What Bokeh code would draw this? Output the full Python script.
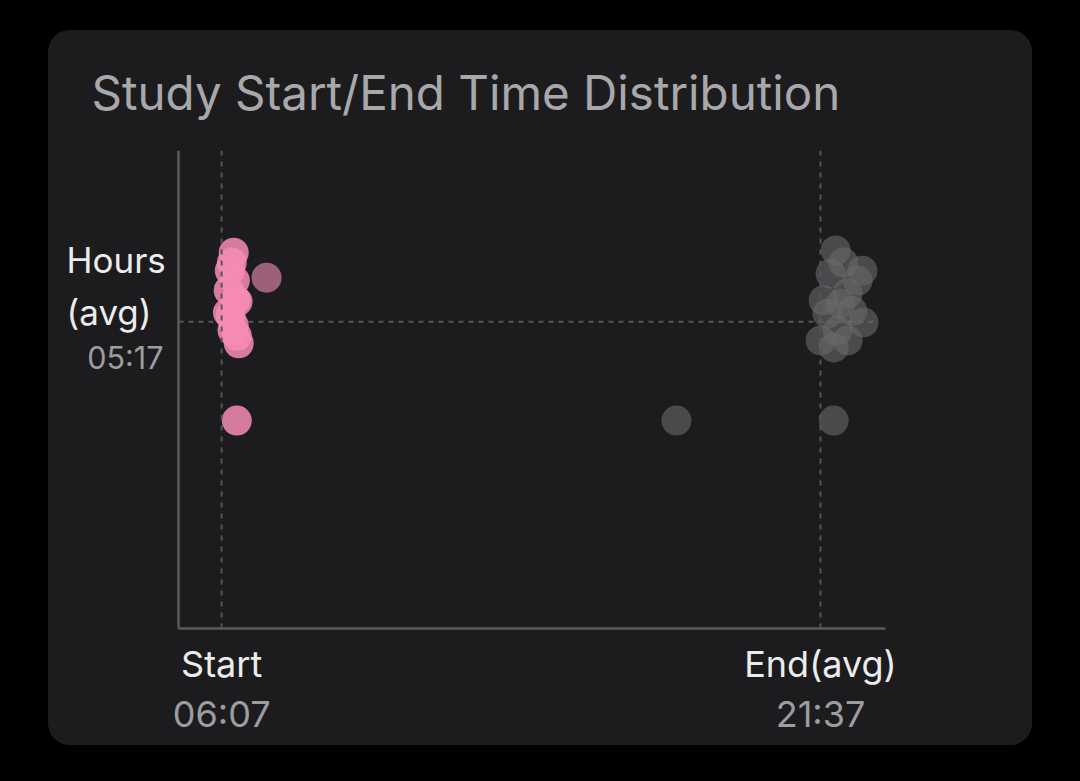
from bokeh.plotting import figure
from bokeh.models import Range1d, Span, Label, LinearAxis, FixedTicker
from bokeh.embed import file_html
from bokeh.resources import INLINE

# ---- data ----
title_text = "Study Start/End Time Distribution"
start_avg = 6 + 7 / 60      # 06:07
end_avg = 21 + 37 / 60      # 21:37
hours_avg = 5 + 17 / 60     # 05:17
x_tick_names = ["Start", "End(avg)"]
x_tick_times = ["06:07", "21:37"]
y_names = ["Hours", "(avg)"]
y_time = "05:17"

start_x = [6.43, 6.38, 6.33, 6.46, 6.30, 6.48, 6.53, 6.35, 6.28, 6.43, 6.40, 6.51, 6.56, 6.51]
start_y = [6.47, 6.30, 6.16, 5.99, 5.82, 5.65, 5.63, 5.39, 5.44, 5.22, 5.13, 5.04, 4.91, 3.58]
start_faded_x = [7.28]
start_faded_y = [6.04]

end_x = [22.01, 22.70, 21.88, 22.58, 22.32, 21.70, 22.14, 21.80, 22.73, 22.06, 22.32, 21.62, 21.96, 22.21, 22.44, 21.96, 17.89]
end_y = [6.51, 6.16, 6.11, 5.99, 5.77, 5.65, 5.59, 5.42, 5.27, 5.13, 4.96, 4.96, 4.84, 6.30, 5.47, 3.58, 3.58]

FONT = "Inter"
CARD = "#1c1c1e"

axis_x = 5.0                      # x value where the y axis sits
xr = Range1d(1.843, 23.3)
yr = Range1d(0.0, 8.23)

p = figure(frame_width=829, frame_height=478, x_range=xr, y_range=yr,
           output_backend="svg", toolbar_location=None,
           x_axis_type=None, y_axis_type=None,
           min_border_left=8, min_border_right=147,
           min_border_top=120, min_border_bottom=117,
           background_fill_color=None, border_fill_color=CARD,
           outline_line_color=None)
p.margin = (30, 0, 0, 48)
p.styles = {"border-radius": "22px", "overflow": "hidden", "background-color": CARD}
p.grid.visible = False

# title
p.title.text = title_text
p.title.text_font = FONT
p.title.text_font_size = "47.5px"
p.title.text_font_style = "normal"
p.title.text_color = "#a8a8ab"
p.title.align = "left"
p.title.offset = 35
p.title.standoff = 59

# axes
ax_b = LinearAxis(ticker=FixedTicker(ticks=[start_avg, end_avg], minor_ticks=[]))
ax_b.bounds = (axis_x, xr.end)
ax_b.major_label_overrides = {start_avg: x_tick_names[0], end_avg: x_tick_names[1]}
ax_b.axis_line_color = "#5a5a5c"
ax_b.axis_line_width = 2.5
ax_b.major_tick_line_color = None
ax_b.minor_tick_line_color = None
ax_b.major_tick_out = 0
ax_b.major_label_standoff = 13
ax_b.major_label_text_font = FONT
ax_b.major_label_text_font_size = "36px"
ax_b.major_label_text_color = "#ececec"
p.add_layout(ax_b, "below")

ax_b2 = LinearAxis(ticker=FixedTicker(ticks=[start_avg, end_avg], minor_ticks=[]))
ax_b2.major_label_overrides = {start_avg: x_tick_times[0], end_avg: x_tick_times[1]}
ax_b2.axis_line_color = None
ax_b2.major_tick_line_color = None
ax_b2.minor_tick_line_color = None
ax_b2.major_tick_out = 0
ax_b2.major_label_standoff = 3
ax_b2.major_label_text_font = FONT
ax_b2.major_label_text_font_size = "36px"
ax_b2.major_label_text_color = "#9d9da0"
p.add_layout(ax_b2, "below")

ax_l = LinearAxis(ticker=FixedTicker(ticks=[], minor_ticks=[]), fixed_location=axis_x)
ax_l.axis_line_color = "#5a5a5c"
ax_l.axis_line_width = 2.5
ax_l.major_tick_line_color = None
ax_l.minor_tick_line_color = None
ax_l.major_tick_out = 0
ax_l.major_label_standoff = 0
ax_l.major_label_text_font_size = "0px"
p.add_layout(ax_l, "left")

# reference lines
for xv in (start_avg, end_avg):
    p.add_layout(Span(location=xv, dimension="height", line_color="#55555a",
                      line_width=2, line_dash="5 6"))
p.segment(x0=[axis_x], y0=[hours_avg], x1=[xr.end - 0.18], y1=[hours_avg],
          line_color="#55555a", line_width=2, line_dash="5 5")

# points
p.scatter(end_x, end_y, size=30, fill_color="#69696b", fill_alpha=0.6, line_color=None)
p.scatter(start_faded_x, start_faded_y, size=30, fill_color="#f090b4", fill_alpha=0.6, line_color=None)
p.scatter(start_x, start_y, size=30, fill_color="#f68cb4", fill_alpha=0.85, line_color=None)

# y-axis texts
p.add_layout(Label(x=axis_x, y=hours_avg, x_offset=-112, y_offset=62, text=y_names[0],
                   text_align="left", text_baseline="middle", text_font=FONT,
                   text_font_size="35px", text_color="#ececec"))
p.add_layout(Label(x=axis_x, y=hours_avg, x_offset=-112, y_offset=10, text=y_names[1],
                   text_align="left", text_baseline="middle", text_font=FONT,
                   text_font_size="35px", text_color="#ececec"))
p.add_layout(Label(x=axis_x, y=hours_avg, x_offset=-15, y_offset=-36, text=y_time,
                   text_align="right", text_baseline="middle", text_font=FONT,
                   text_font_size="30.5px", text_color="#9d9da0"))

html = file_html(p, INLINE)
html = html.replace("<head>", "<head><style>html,body{background:#000;}</style>", 1)
open("out.html", "w").write(html)
